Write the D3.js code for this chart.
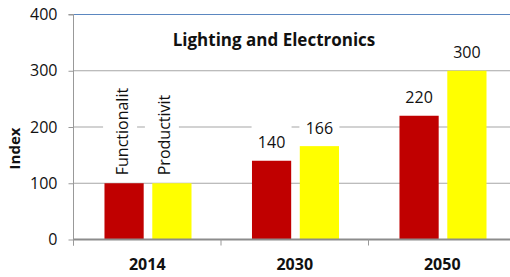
<!DOCTYPE html>
<html>
<head>
<meta charset="utf-8">
<script src="https://cdn.jsdelivr.net/npm/d3@7/dist/d3.min.js"></script>
<style>
  body { margin: 0; background: #fff; }
  svg { display: block; font-family: "Open Sans", sans-serif; }
</style>
</head>
<body>
<svg id="chart" width="510" height="277"></svg>
<script>
// chart data
var years = ["2014", "2030", "2050"];
var seriesNames = ["Functionality", "Productivity"];
var functionality = [100, 140, 220];
var productivity = [100, 166, 300];
var functionalityLabels = ["Functionalit", "140", "220"];
var productivityLabels = ["Productivit", "166", "300"];
var yTicks = [0, 100, 200, 300, 400];
var colors = ["#C00000", "#FFFF00"];

var svg = d3.select("#chart");
var width = +svg.attr("width");
var plotLeft = 73.5, plotTop = 14.5, plotBottom = 239.5, plotRight = 516;

var x0 = d3.scaleBand().domain(years).range([plotLeft, plotRight]).paddingInner(0).paddingOuter(0);
var bw = x0.bandwidth();
var x1 = d3.scaleBand().domain(seriesNames).range([bw * 0.21, bw * 0.8]).paddingInner(0.18);
var y = d3.scaleLinear().domain([0, 400]).range([plotBottom, plotTop]);

var rows = years.map(function(yr, i) {
  return [
    {year: yr, s: seriesNames[0], v: functionality[i], label: functionalityLabels[i], c: colors[0], shift: -2},
    {year: yr, s: seriesNames[1], v: productivity[i], label: productivityLabels[i], c: colors[1], shift: -8}
  ];
});
var points = d3.merge(rows);

// gridlines
svg.append("g").selectAll("line").data(yTicks.filter(function(d){ return d > 0; })).enter().append("line")
  .attr("x1", plotLeft).attr("x2", width)
  .attr("y1", function(d){ return y(d); }).attr("y2", function(d){ return y(d); })
  .attr("stroke", function(d){ return d == 400 ? "#5B87C0" : "#A6A6A6"; })
  .attr("stroke-width", 1.2);

// y axis
var yAxis = d3.axisLeft(y).tickValues(yTicks).tickSize(5).tickPadding(11);
var gy = svg.append("g").attr("transform", "translate(" + plotLeft + ",0)").call(yAxis);
gy.select(".domain").attr("stroke", "#999").attr("d", "M-5," + plotTop + "H0V" + (plotBottom + 6));
gy.selectAll(".tick line").attr("stroke", "#999");
gy.selectAll(".tick text").attr("font-size", 16).attr("font-family", "Open Sans").attr("fill", "#111");

// bars
svg.append("g").selectAll("rect").data(points).enter().append("rect")
  .attr("x", function(d){ return x0(d.year) + x1(d.s); })
  .attr("y", function(d){ return y(d.v); })
  .attr("width", x1.bandwidth())
  .attr("height", function(d){ return y(0) - y(d.v); })
  .attr("fill", function(d){ return d.c; });

// x axis
svg.append("line").attr("x1", plotLeft).attr("x2", width).attr("y1", plotBottom).attr("y2", plotBottom)
  .attr("stroke", "#8C8C8C").attr("stroke-width", 2);
var bounds = years.map(function(d){ return x0(d); }).concat([plotRight]);
svg.append("g").selectAll("line").data(bounds).enter().append("line")
  .attr("x1", function(d){ return d; }).attr("x2", function(d){ return d; })
  .attr("y1", plotBottom).attr("y2", plotBottom + 6)
  .attr("stroke", "#999");
var xAxis = d3.axisBottom(x0).tickSize(0).tickPadding(19);
var gx = svg.append("g").attr("transform", "translate(0," + plotBottom + ")").call(xAxis);
gx.select(".domain").remove();
gx.selectAll(".tick text").attr("font-size", 16).attr("font-weight", "bold")
  .attr("font-family", "Open Sans").attr("fill", "#111");

// value labels
var numeric = points.filter(function(d){ return !isNaN(+d.label); });
var vl = svg.append("g").selectAll("g").data(numeric).enter().append("g")
  .attr("transform", function(d){
    return "translate(" + (x0(d.year) + x1(d.s) + x1.bandwidth() / 2) + "," + (y(d.v) - 12.5) + ")";
  });
vl.append("rect").attr("x", -20).attr("y", -23).attr("width", 40).attr("height", 28).attr("fill", "#fff");
vl.append("text").attr("text-anchor", "middle").attr("font-size", 16).attr("fill", "#111")
  .text(function(d){ return d.label; });

// rotated series-name labels
var names = points.filter(function(d){ return isNaN(+d.label); });
var nl = svg.append("g").selectAll("g").data(names).enter().append("g")
  .attr("transform", function(d){
    return "translate(" + (x0(d.year) + x1(d.s) + x1.bandwidth() / 2 + d.shift) + "," + (y(d.v) - 8) + ") rotate(-90)";
  });
nl.append("rect").attr("x", -3).attr("y", -19).attr("width", 98).attr("height", 34).attr("fill", "#fff");
nl.append("text").attr("dy", "0.35em").attr("font-size", 16).attr("fill", "#111")
  .text(function(d){ return d.label; });

// titles
svg.append("text").attr("x", 274).attr("y", 45.5).attr("text-anchor", "middle")
  .attr("font-size", 17).attr("font-weight", "bold").attr("fill", "#111")
  .text("Lighting and Electronics");
svg.append("text").attr("transform", "translate(20,148.5) rotate(-90)").attr("text-anchor", "middle")
  .attr("font-size", 15).attr("font-weight", "bold").attr("fill", "#111")
  .text("Index");
</script>
</body>
</html>
